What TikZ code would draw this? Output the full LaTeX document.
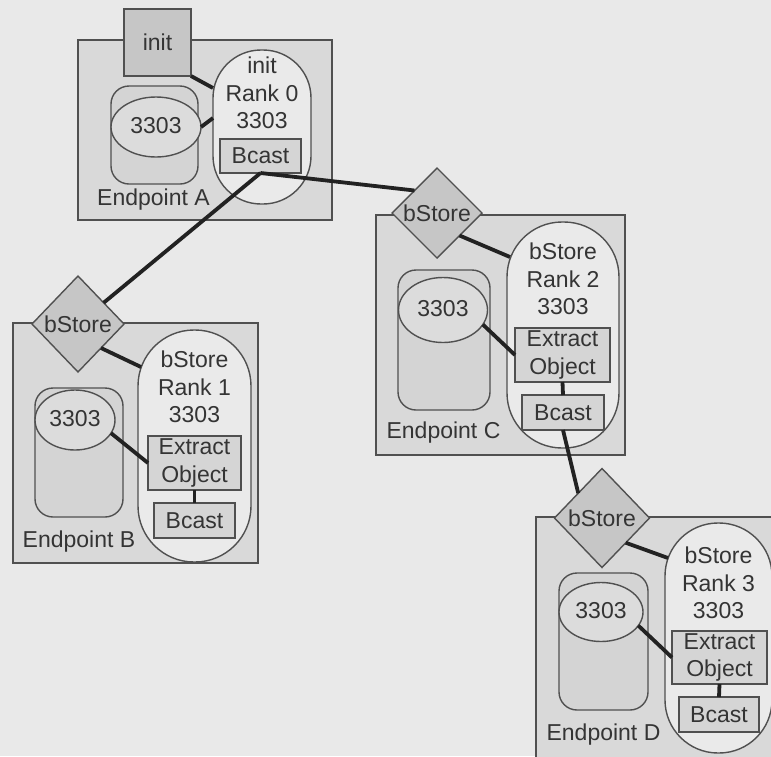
\documentclass[tikz,border=0pt]{standalone}
\usepackage{fontspec}
\setmainfont{Liberation Sans}
\usetikzlibrary{shapes.geometric}
\definecolor{bgc}{HTML}{E9E9E9}
\definecolor{boxc}{HTML}{D9D9D9}
\definecolor{diac}{HTML}{C6C6C6}
\definecolor{pillc}{HTML}{EAEAEA}
\definecolor{cylc}{HTML}{D4D4D4}
\definecolor{ellc}{HTML}{DCDCDC}
\definecolor{innerc}{HTML}{D5D5D5}
\definecolor{edgec}{HTML}{505050}
\definecolor{wirec}{HTML}{222222}
\definecolor{txtc}{HTML}{343434}
\begin{document}
\begin{tikzpicture}[x=1pt,y=-1pt,
  every node/.style={inner sep=0pt, outer sep=0pt, text=txtc,
    font=\fontsize{23}{27.5}\selectfont},
  endpoint/.style={rectangle, draw=edgec, fill=boxc, line width=1.4pt},
  cylbox/.style={rectangle, draw=edgec, fill=cylc, line width=1.4pt, rounded corners=18pt},
  diskell/.style={ellipse, draw=edgec, fill=ellc, line width=1.4pt},
  rankpill/.style={rectangle, draw=edgec, fill=pillc, line width=1.4pt},
  ranktext/.style={align=center},
  opbox/.style={rectangle, draw=edgec, fill=innerc, line width=1.4pt, align=center},
  initbox/.style={rectangle, draw=edgec, fill=diac, line width=1.4pt},
  storediamond/.style={diamond, draw=edgec, fill=diac, line width=1.4pt},
  eplabel/.style={},
  wire/.style={draw=wirec, line width=3.8pt}
]
\useasboundingbox (0,0) rectangle (771,756);
\clip (0,0) rectangle (771,756);
\fill[bgc] (0,0) rectangle (771,756);

% ---- Endpoint A ----
\node[endpoint, minimum width=254pt, minimum height=180pt] (epA) at (205,130) {};
\node[cylbox, minimum width=87pt, minimum height=98pt] (cylA) at (154.5,135) {};
\node[diskell, minimum width=90pt, minimum height=60pt] (ellA) at (156,127) {\raisebox{3pt}{3303}};
\node[rankpill, minimum width=98pt, minimum height=154pt, rounded corners=48pt] (pillA) at (262,127) {};
\node[ranktext] (rankA) at (262,93) {init\\Rank 0\\3303};
\node[opbox, minimum width=81pt, minimum height=34pt] (bcA) at (260.5,156) {Bcast};
\node[initbox, minimum width=67pt, minimum height=67pt] (initsq) at (157.5,42.5) {init};
\node[eplabel] (labA) at (153.5,200) {Endpoint A};

% ---- Endpoint B ----
\node[endpoint, minimum width=245pt, minimum height=240pt] (epB) at (135.5,443) {};
\node[cylbox, minimum width=88pt, minimum height=129pt] (cylB) at (79,452.5) {};
\node[diskell, minimum width=80pt, minimum height=60pt] (ellB) at (75,420) {\raisebox{3pt}{3303}};
\node[rankpill, minimum width=113pt, minimum height=232pt, rounded corners=56pt] (pillB) at (194.5,446) {};
\node[ranktext] (rankB) at (194.5,387) {bStore\\Rank 1\\3303};
\node[opbox, minimum width=93pt, minimum height=54pt] (extB) at (194.5,463) {Extract\\Object};
\node[opbox, minimum width=81pt, minimum height=35pt] (bcB) at (194.5,520.5) {Bcast};
\node[storediamond, minimum width=92pt, minimum height=96pt] (diaB) at (78,324) {bStore};
\node[eplabel] (labB) at (79,542) {Endpoint B};

% ---- Endpoint C ----
\node[endpoint, minimum width=249pt, minimum height=240pt] (epC) at (500.5,335) {};
\node[cylbox, minimum width=92pt, minimum height=140pt] (cylC) at (444,340) {};
\node[diskell, minimum width=89pt, minimum height=65pt] (ellC) at (443,310) {\raisebox{3pt}{3303}};
\node[rankpill, minimum width=112pt, minimum height=226pt, rounded corners=55pt] (pillC) at (563,335) {};
\node[ranktext] (rankC) at (563,279) {bStore\\Rank 2\\3303};
\node[opbox, minimum width=95pt, minimum height=54pt] (extC) at (562.5,355) {Extract\\Object};
\node[opbox, minimum width=82pt, minimum height=35pt] (bcC) at (563,412.5) {Bcast};
\node[storediamond, minimum width=90pt, minimum height=90pt] (diaC) at (437,213) {bStore};
\node[eplabel] (labC) at (443.5,433) {Endpoint C};

% ---- Endpoint D ----
\node[endpoint, minimum width=254pt, minimum height=263pt] (epD) at (663,648.5) {};
\node[cylbox, minimum width=89pt, minimum height=137pt] (cylD) at (603.5,641.5) {};
\node[diskell, minimum width=84pt, minimum height=59pt] (ellD) at (601,612) {\raisebox{3pt}{3303}};
\node[rankpill, minimum width=107pt, minimum height=230pt, rounded corners=53pt] (pillD) at (718.5,638) {};
\node[ranktext] (rankD) at (718.5,583) {bStore\\Rank 3\\3303};
\node[opbox, minimum width=95pt, minimum height=53pt] (extD) at (719.5,657.5) {Extract\\Object};
\node[opbox, minimum width=80pt, minimum height=35pt] (bcD) at (719,714.5) {Bcast};
\node[storediamond, minimum width=95pt, minimum height=99pt] (diaD) at (602,518) {bStore};
\node[eplabel] (labD) at (603.5,735) {Endpoint D};

% ---- connections ----
\draw[wire] (initsq.south east) -- ([yshift=39pt]pillA.west);
\draw[wire] (ellA.east) -- ([yshift=9pt]pillA.west);
\draw[wire] (bcA.south) -- (diaB);
\draw[wire] (bcA.south) -- (diaC.north west);

\draw[wire] (diaB.south east) -- ([shift={(3pt,79pt)}]pillB.west);
\draw[wire] (ellB.-20) -- (extB.west);
\draw[wire] (extB.south) -- (bcB.north);

\draw[wire] (diaC.south east) -- ([shift={(3pt,78pt)}]pillC.west);
\draw[wire] (ellC.-20) -- (extC.west);
\draw[wire] (extC.south) -- (bcC.north);
\draw[wire] (bcC.south) -- (diaD.north west);

\draw[wire] (diaD.south east) -- ([shift={(3pt,80pt)}]pillD.west);
\draw[wire] (ellD.-20) -- (extD.west);
\draw[wire] (extD.south) -- (bcD.north);
\end{tikzpicture}
\end{document}
